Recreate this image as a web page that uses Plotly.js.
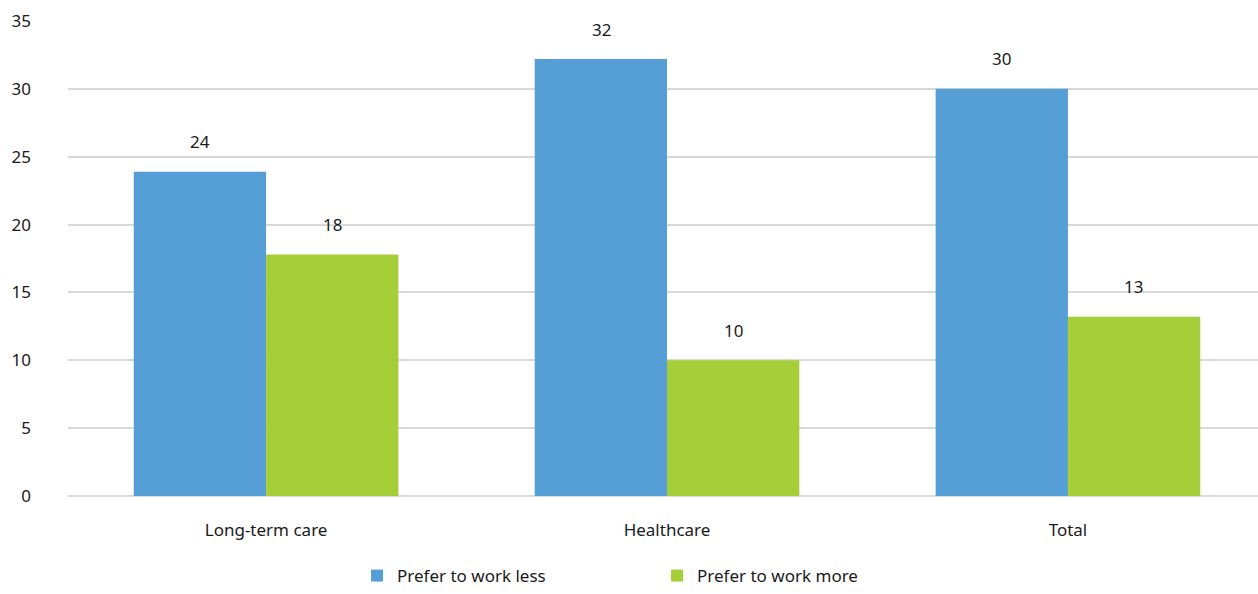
<!DOCTYPE html>
<html>
<head>
<meta charset="utf-8">
<script src="https://cdn.plot.ly/plotly-3.0.1.min.js"></script>
<style>
  html, body { margin: 0; padding: 0; background: #ffffff; }
  #chart { width: 1258px; height: 594px; }
</style>
</head>
<body>
<div id="chart"></div>
<script>
// Share of workers who would prefer to change their working hours (%)
const categories = ["Long-term care", "Healthcare", "Total"];
const seriesNames = ["Prefer to work less", "Prefer to work more"];
const preferLess = [23.9, 32.2, 30.0];
const preferMore = [17.8, 10.0, 13.2];
const yTicks = [0, 5, 10, 15, 20, 25, 30, 35];

const colors = ["#559fd6", "#a6ce39"];
const fontFamily = "'Noto Sans', Lato, sans-serif";
const fontSize = 17;

const traces = [
  {
    type: "bar",
    name: seriesNames[0],
    x: categories,
    y: preferLess,
    marker: { color: colors[0] },
    hoverinfo: "x+y+name"
  },
  {
    type: "bar",
    name: seriesNames[1],
    x: categories,
    y: preferMore,
    marker: { color: colors[1] },
    hoverinfo: "x+y+name"
  }
];

// Value labels above each bar, shifted to sit over its own bar in the group
const barHalfOffset = 66;
const annotations = [];
[preferLess, preferMore].forEach((vals, s) => {
  vals.forEach((v, i) => {
    annotations.push({
      x: categories[i],
      y: v,
      xref: "x",
      yref: "y",
      text: String(Math.round(v)),
      showarrow: false,
      xshift: s === 0 ? -barHalfOffset : barHalfOffset,
      yshift: 30,
      yanchor: "middle",
      font: { family: fontFamily, size: fontSize, color: "#1a1a1a" }
    });
  });
});

const layout = {
  width: 1258,
  height: 594,
  margin: { l: 68, r: 0, t: 21, b: 98 },
  paper_bgcolor: "#ffffff",
  plot_bgcolor: "#ffffff",
  font: { family: fontFamily, size: fontSize, color: "#1a1a1a" },
  barmode: "group",
  bargap: 0.34,
  bargroupgap: 0,
  showlegend: true,
  legend: {
    orientation: "h",
    xref: "paper",
    x: 0.495,
    xanchor: "center",
    yref: "container",
    y: 0,
    yanchor: "bottom",
    entrywidth: 255,
    font: { family: fontFamily, size: fontSize, color: "#1a1a1a" },
    traceorder: "normal"
  },
  xaxis: {
    type: "category",
    range: [-0.494, 2.474],
    showgrid: false,
    zeroline: false,
    showline: false,
    ticks: "",
    ticklabelstandoff: 22,
    tickfont: { family: fontFamily, size: fontSize, color: "#1a1a1a" },
    fixedrange: true
  },
  yaxis: {
    range: [0, 35],
    tickvals: yTicks,
    ticktext: yTicks.map(String),
    showgrid: true,
    gridcolor: "#d9d9d9",
    gridwidth: 2,
    zeroline: true,
    zerolinecolor: "#d9d9d9",
    zerolinewidth: 2,
    showline: false,
    ticks: "",
    ticklabelstandoff: 36,
    tickfont: { family: fontFamily, size: fontSize, color: "#1a1a1a" },
    fixedrange: true
  },
  annotations: annotations
};

Plotly.newPlot("chart", traces, layout, { displayModeBar: false, staticPlot: true });
</script>
</body>
</html>
